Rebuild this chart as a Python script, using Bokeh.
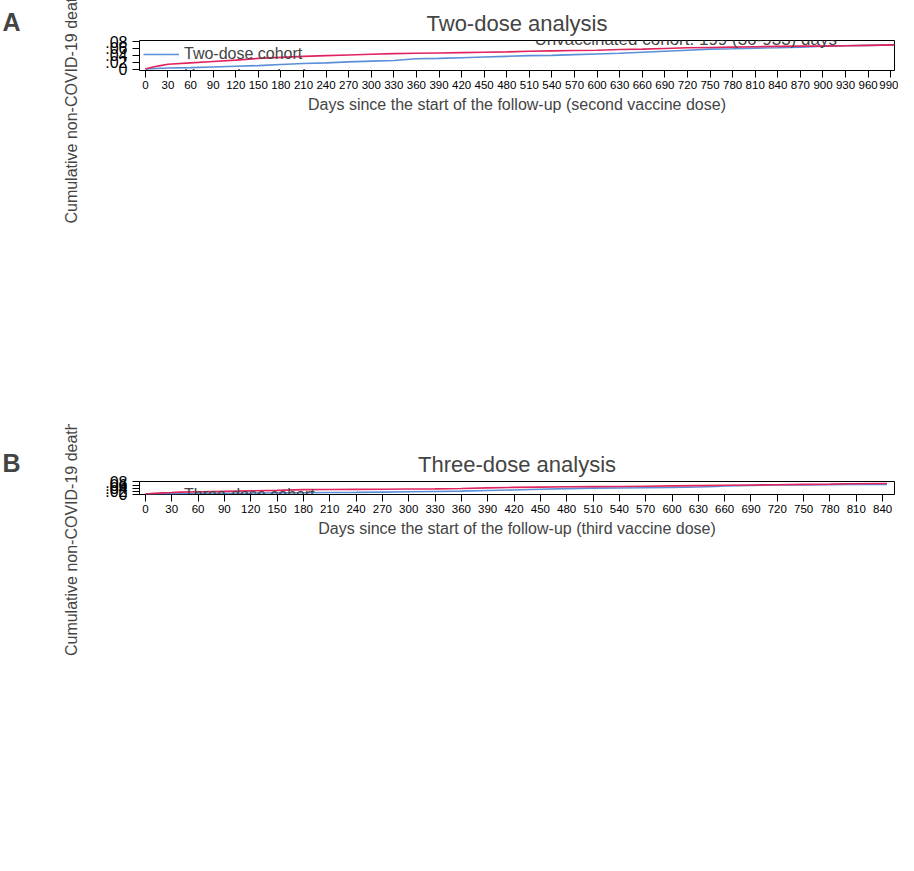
from bokeh.plotting import figure
from bokeh.layouts import column, row
from bokeh.models import Label, CustomJSTickFormatter, FixedTicker, Range1d, Legend
from bokeh.embed import file_html
from bokeh.resources import INLINE

x_top_blue = [0,30,60,90,120,150,180,210,240,270,300,330,360,390,420,450,480,510,540,570,600,630,660,690,720,750,780,810,840,870,900,930,960,995]
y_top_blue = [0,0.003,0.004,0.006,0.008,0.010,0.013,0.016,0.018,0.021,0.023,0.025,0.030,0.031,0.033,0.035,0.037,0.039,0.040,0.042,0.044,0.046,0.049,0.052,0.055,0.058,0.059,0.061,0.062,0.064,0.067,0.068,0.069,0.0705]
x_top_red = [0,10,20,30,60,90,120,150,180,210,240,270,300,330,360,390,420,450,480,510,540,570,600,630,660,690,720,750,780,810,840,870,900,930,960,995]
y_top_red = [0,0.006,0.010,0.014,0.018,0.022,0.026,0.031,0.034,0.037,0.039,0.041,0.043,0.045,0.046,0.047,0.048,0.049,0.050,0.052,0.053,0.054,0.055,0.057,0.058,0.060,0.062,0.063,0.064,0.065,0.066,0.067,0.067,0.068,0.069,0.0705]
x_bot_blue = [0,10,20,30,45,60,90,120,135,150,180,210,240,270,300,330,360,390,420,450,480,510,540,570,600,630,650,660,690,720,750,780,800,845]
y_bot_blue = [0,0.001,0.002,0.003,0.004,0.005,0.005,0.006,0.007,0.008,0.009,0.010,0.011,0.013,0.015,0.017,0.019,0.023,0.027,0.032,0.036,0.039,0.040,0.042,0.044,0.047,0.050,0.053,0.057,0.060,0.061,0.062,0.064,0.064]
x_bot_red = [0,10,20,30,40,60,90,120,150,180,210,240,270,300,330,360,390,420,450,480,510,540,570,600,630,660,690,720,750,780,800,845]
y_bot_red = [0,0.005,0.008,0.010,0.013,0.015,0.018,0.021,0.024,0.029,0.030,0.031,0.032,0.033,0.034,0.037,0.041,0.044,0.046,0.048,0.049,0.050,0.052,0.054,0.056,0.058,0.060,0.062,0.064,0.066,0.068,0.070]

BLUE = "#5a8fd8"
RED = "#e0245e"
FONT = "Liberation Sans"
fmt = CustomJSTickFormatter(code="return tick < 1e-9 ? '0' : tick.toFixed(2).replace(/^0/, '');")

def letter_fig(letter, h, top):
    q = figure(width=30, height=h, output_backend="svg", toolbar_location=None,
               min_border_left=0, min_border_right=0, min_border_top=top, min_border_bottom=h - 70)
    q.title.text = letter
    q.title.align = "left"
    q.title.text_font = FONT
    q.title.text_font_size = "25px"
    q.title.text_font_style = "bold"
    q.title.offset = 2
    q.axis.visible = False
    q.grid.visible = False
    q.outline_line_color = None
    return q

def make(title, xb, yb, xr, yr, lb, lr, xmax, xlabel, notes, xr_rng, yr_rng, h, mt, mb, ny):
    p = figure(width=868, height=h, output_backend="svg", toolbar_location=None,
               x_range=Range1d(*xr_rng), y_range=Range1d(*yr_rng),
               min_border_left=109, min_border_right=4, min_border_top=mt, min_border_bottom=mb)
    p.title.text = title
    p.title.align = "center"
    p.title.text_font = FONT
    p.title.text_font_size = "22px"
    p.title.text_font_style = "normal"
    p.title.offset = 0
    r1 = p.line(xb, yb, color=BLUE, line_width=1.6)
    r2 = p.line(xr, yr, color=RED, line_width=1.6)
    leg = Legend(items=[(lb, [r1]), (lr, [r2])], location="top_left", border_line_color=None,
                 background_fill_alpha=0, label_text_font=FONT, label_text_font_size="16px",
                 glyph_width=36, spacing=2, margin=4, padding=4)
    p.add_layout(leg)
    p.xgrid.visible = False
    p.ygrid.visible = False
    p.outline_line_color = "black"
    p.xaxis.ticker = FixedTicker(ticks=list(range(0, xmax + 1, 30)))
    p.yaxis.ticker = FixedTicker(ticks=[0, 0.02, 0.04, 0.06, 0.08])
    p.yaxis.formatter = fmt
    p.xaxis.minor_tick_line_color = None
    p.yaxis.minor_tick_line_color = None
    p.xaxis.axis_label = xlabel
    p.yaxis.axis_label = "Cumulative non-COVID-19 death incidence (%)"
    for ax in (p.xaxis, p.yaxis):
        ax.axis_label_text_font = FONT
        ax.axis_label_text_font_style = "normal"
        ax.axis_label_text_font_size = "16px"
        ax.major_label_text_font = FONT
        ax.major_tick_out = 7
        ax.major_tick_in = 0
        ax.axis_line_color = None
        ax.major_label_text_color = "black"
    p.xaxis.major_label_standoff = 3
    p.xaxis.axis_label_standoff = 4
    p.yaxis.axis_label_standoff = 22
    p.xaxis.major_label_text_font_size = "11.5px"
    p.yaxis.major_label_text_font_size = "16px"
    p.yaxis.major_label_orientation = "horizontal"
    for i, (t, dx) in enumerate(notes):
        p.add_layout(Label(x=dx, y=ny - i * 25, x_units="screen", y_units="screen", text=t,
                           text_font=FONT, text_font_size="17px"))
    return p

p1 = make("Two-dose analysis", x_top_blue, y_top_blue, x_top_red, y_top_red,
          "Two-dose cohort", "Unvaccinated cohort", 990,
          "Days since the start of the follow-up (second vaccine dose)",
          [("Median (IQR) of length of follow-up", 387),
           ("Two-dose cohort: 206 (41-925) days", 395),
           ("Unvaccinated cohort: 199 (36-933) days", 395)],
          (-7.8, 995), (-0.0043, 0.0833), 424, 29, 30, 72)
p2 = make("Three-dose analysis", x_bot_blue, y_bot_blue, x_bot_red, y_bot_red,
          "Three-dose cohort", "Two-dose cohort", 840,
          "Days since the start of the follow-up (third vaccine dose)",
          [("Median (IQR) of length of follow-up", 405),
           ("Three-dose cohort: 695 (66-802) days", 412),
           ("Two-dose cohort: 685 (49-798) days", 410)],
          (-6.7, 853.5), (-0.0031, 0.0833), 431, 57, 30, 72)

layout = column(row(letter_fig("A", 424, 0), p1, spacing=0),
                row(letter_fig("B", 431, 12), p2, spacing=0), spacing=0)
open("out.html", "w").write(file_html(layout, INLINE))
